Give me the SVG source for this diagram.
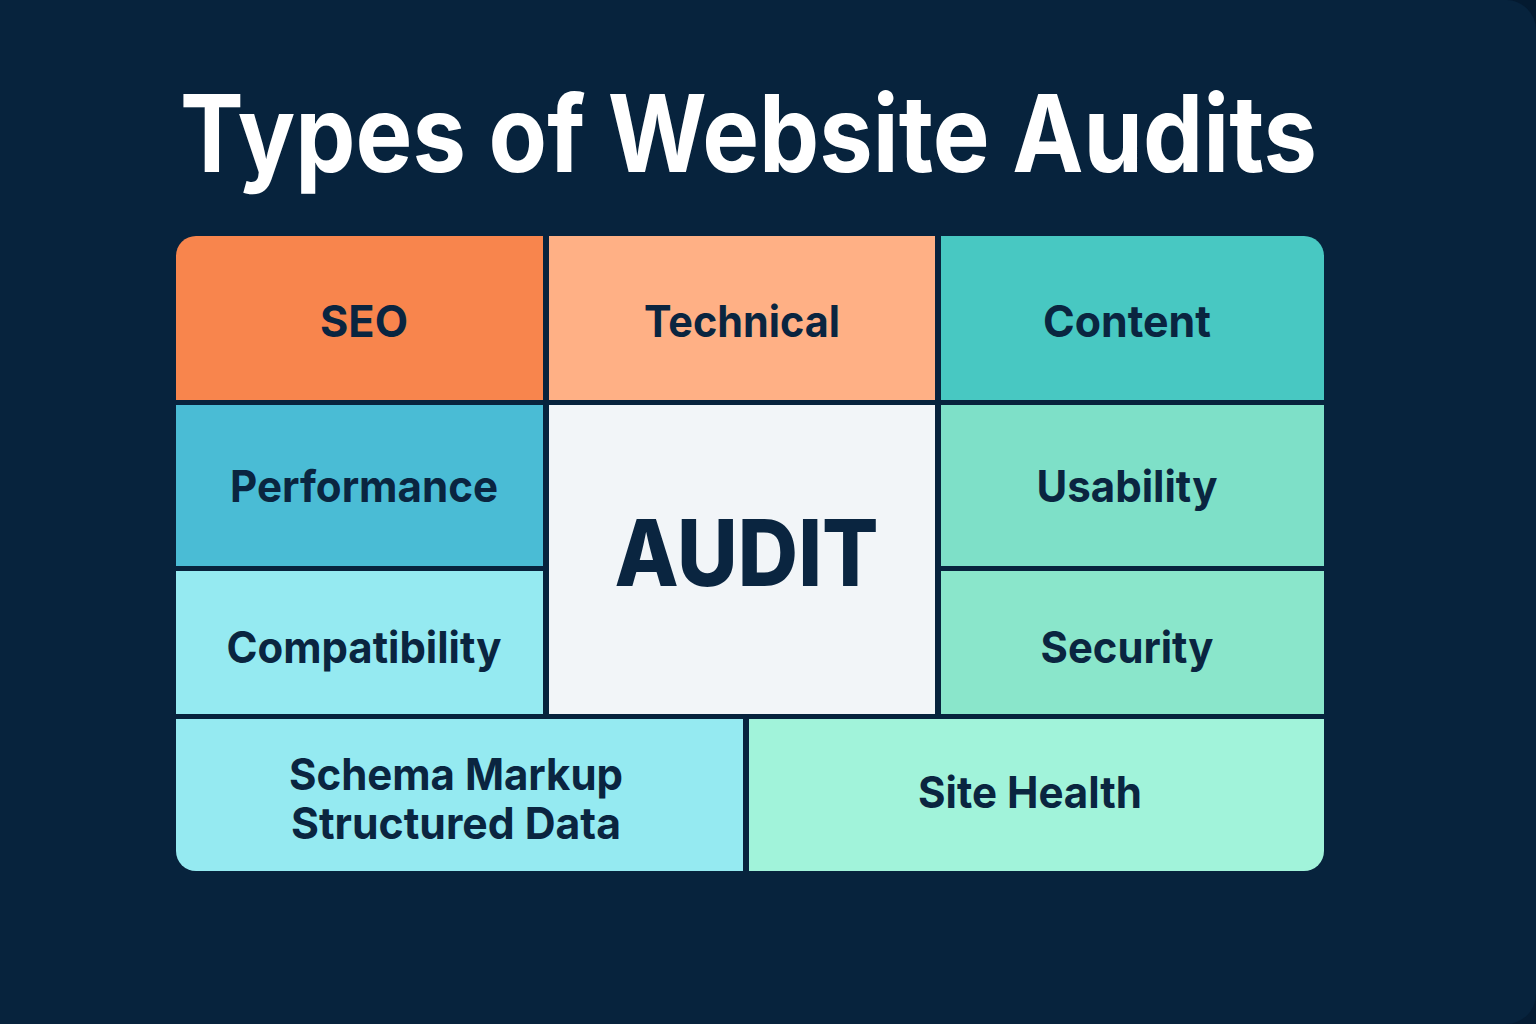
<svg xmlns="http://www.w3.org/2000/svg" width="1536" height="1024" viewBox="0 0 1536 1024">
<style>
text{font-family:Inter,"Liberation Sans",sans-serif;fill:#0a2540;text-anchor:middle;font-weight:700;font-size:44px}
.t{fill:#fff;font-size:107px}
.a{font-size:92px;font-weight:800}
</style>
<rect width="1536" height="1024" fill="#07233d"/>
<path d="M1505 0H1536V30A30 30 0 0 0 1505 0Z" fill="#041a30"/>
<path d="M1536 994V1024H1506A30 30 0 0 0 1536 994Z" fill="#051c33"/>
<text class="t" x="748.500" y="172" textLength="1137" lengthAdjust="spacingAndGlyphs">Types of Website Audits</text>
<g id="seo"><path d="M196 236H543V400H176V256A20 20 0 0 1 196 236Z" fill="#f8854d"/><text x="364" y="337" textLength="88" lengthAdjust="spacingAndGlyphs">SEO</text></g>
<g id="technical"><rect x="549" y="236" width="386" height="164" fill="#ffb085"/><text x="742" y="337" textLength="196" lengthAdjust="spacingAndGlyphs">Technical</text></g>
<g id="content"><path d="M941 236H1304A20 20 0 0 1 1324 256V400H941Z" fill="#48c8c2"/><text x="1127" y="337" textLength="168" lengthAdjust="spacingAndGlyphs">Content</text></g>
<g id="performance"><rect x="176" y="405" width="367" height="161" fill="#4abcd5"/><text x="364" y="502" textLength="268" lengthAdjust="spacingAndGlyphs">Performance</text></g>
<g id="audit"><rect x="549" y="405" width="386" height="309" fill="#f2f5f8"/><text class="a" x="746.500" y="586" textLength="264" lengthAdjust="spacingAndGlyphs">AUDIT</text></g>
<g id="usability"><rect x="941" y="405" width="383" height="161" fill="#7ee0c8"/><text x="1127" y="502" textLength="181" lengthAdjust="spacingAndGlyphs">Usability</text></g>
<g id="compatibility"><rect x="176" y="571" width="367" height="143" fill="#95eaf1"/><text x="364" y="663" textLength="275" lengthAdjust="spacingAndGlyphs">Compatibility</text></g>
<g id="security"><rect x="941" y="571" width="383" height="143" fill="#8ae6cb"/><text x="1127" y="663" textLength="173" lengthAdjust="spacingAndGlyphs">Security</text></g>
<g id="schema"><path d="M176 719H743V871H196A20 20 0 0 1 176 851Z" fill="#95eaf1"/><text x="456" y="790" textLength="334" lengthAdjust="spacingAndGlyphs">Schema Markup</text><text x="456" y="839" textLength="330" lengthAdjust="spacingAndGlyphs">Structured Data</text></g>
<g id="site-health"><path d="M749 719H1324V851A20 20 0 0 1 1304 871H749Z" fill="#a1f3da"/><text x="1030" y="808" textLength="224" lengthAdjust="spacingAndGlyphs">Site Health</text></g>
</svg>
